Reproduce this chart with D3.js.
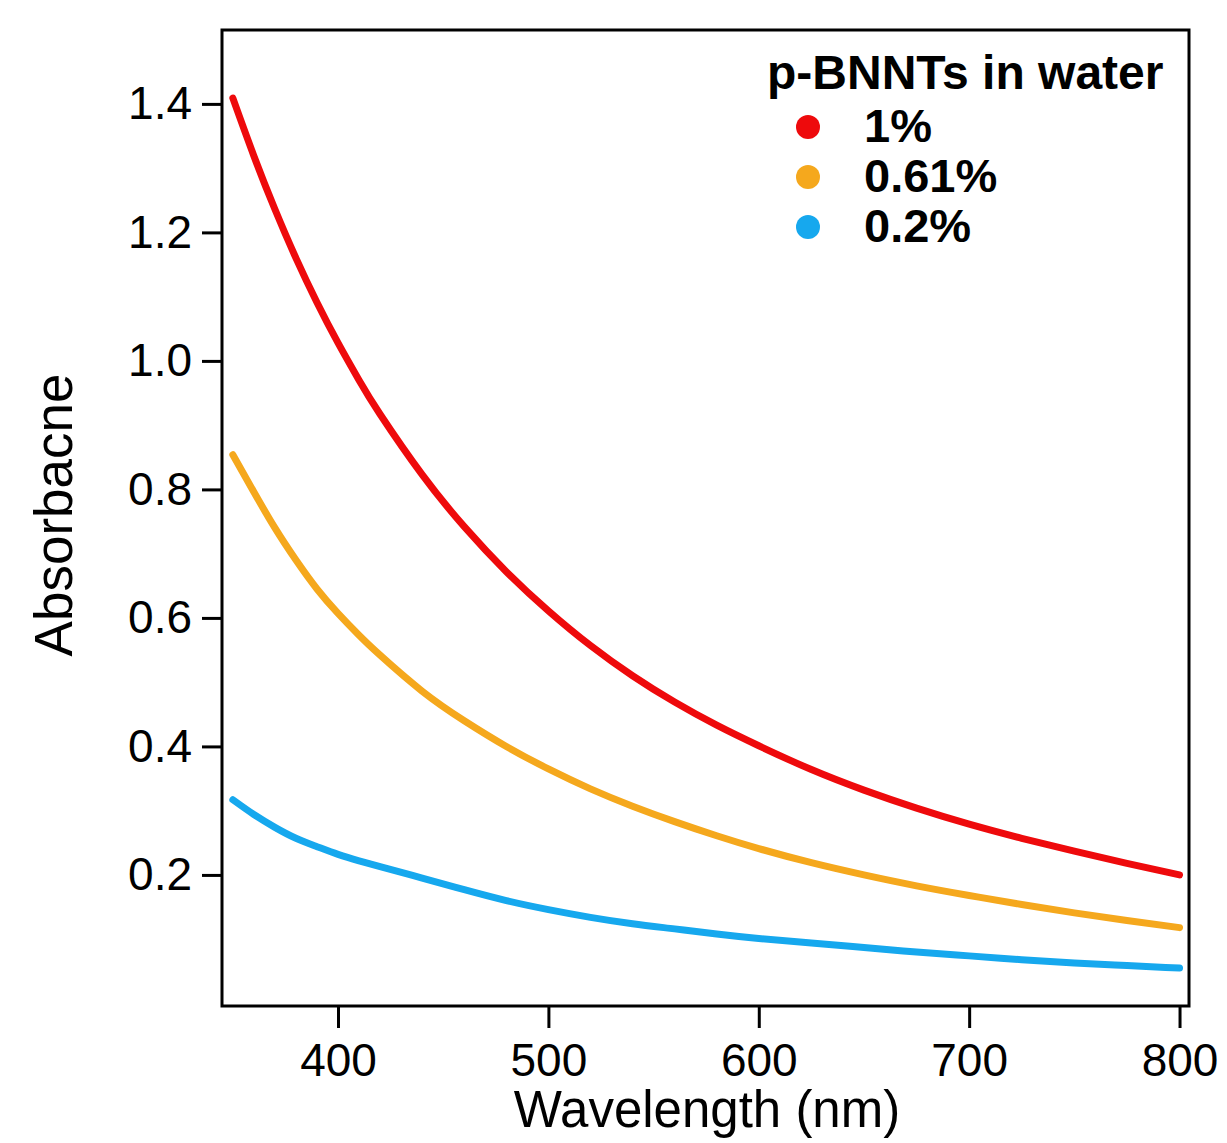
<!DOCTYPE html>
<html>
<head>
<meta charset="utf-8">
<script src="https://cdn.jsdelivr.net/npm/d3@7"></script>
<style>
  body { margin: 0; background: #fff; }
  svg { display: block; font-family: 'Liberation Sans', Helvetica, Arial, sans-serif; }
</style>
</head>
<body>
<div id="chart"></div>
<script>
// DATA ------------------------
const wavelengths = [350, 360, 370, 380, 390, 400, 410, 420, 440, 460, 480, 500, 520, 540, 560, 580, 600, 625, 650, 675, 700, 725, 750, 775, 800];
const abs1 = [1.409, 1.319, 1.236, 1.160, 1.091, 1.028, 0.970, 0.917, 0.823, 0.742, 0.672, 0.611, 0.557, 0.510, 0.469, 0.433, 0.401, 0.364, 0.332, 0.304, 0.279, 0.257, 0.237, 0.218, 0.200];
const abs061 = [0.854, 0.796, 0.740, 0.690, 0.645, 0.607, 0.573, 0.542, 0.486, 0.440, 0.400, 0.365, 0.334, 0.307, 0.283, 0.261, 0.241, 0.219, 0.200, 0.183, 0.168, 0.154, 0.141, 0.129, 0.118];
const abs02 = [0.317, 0.294, 0.274, 0.257, 0.244, 0.232, 0.222, 0.213, 0.195, 0.177, 0.160, 0.146, 0.134, 0.124, 0.116, 0.108, 0.101, 0.094, 0.087, 0.080, 0.074, 0.068, 0.063, 0.059, 0.055];
const seriesNames = ['1%', '0.61%', '0.2%'];
const seriesColors = ['#ee0a0c', '#f5a81d', '#16a8ee'];
const xTicks = [400, 500, 600, 700, 800];
const yTicks = [0.2, 0.4, 0.6, 0.8, 1.0, 1.2, 1.4];

const w = 1227;
const h = 1143;
const plot = { left: 222, right: 1189, top: 30, bottom: 1006 };

const svg = d3.select('#chart').append('svg').attr('width', w).attr('height', h);

// SCALES ----------------------
const xScale = d3.scaleLinear().domain([344.85, 804.5]).range([plot.left, plot.right]);
const yScale = d3.scaleLinear().domain([-0.004, 1.515]).range([plot.bottom, plot.top]);

// LINES -----------------------
const series = [abs1, abs061, abs02];
const line = d3
  .line()
  .x((d) => xScale(d[0]))
  .y((d) => yScale(d[1]))
  .curve(d3.curveNatural);

svg
  .append('g')
  .selectAll('path')
  .data(series)
  .enter()
  .append('path')
  .attr('d', (vals) => line(wavelengths.map((wl, i) => [wl, vals[i]])))
  .attr('fill', 'none')
  .attr('stroke', (d, i) => seriesColors[i])
  .attr('stroke-width', 7)
  .attr('stroke-linecap', 'round')
  .attr('stroke-linejoin', 'round');

// FRAME + AXES ----------------
svg
  .append('rect')
  .attr('x', plot.left)
  .attr('y', plot.top)
  .attr('width', plot.right - plot.left)
  .attr('height', plot.bottom - plot.top)
  .attr('fill', 'none')
  .attr('stroke', '#000')
  .attr('stroke-width', 3);

const gX = svg
  .append('g')
  .attr('transform', `translate(0, ${plot.bottom})`)
  .call(d3.axisBottom(xScale).tickValues(xTicks).tickSize(22).tickSizeOuter(0).tickPadding(15).tickFormat(d3.format('d')));

const gY = svg
  .append('g')
  .attr('transform', `translate(${plot.left}, 0)`)
  .call(d3.axisLeft(yScale).tickValues(yTicks).tickSize(20).tickSizeOuter(0).tickPadding(10).tickFormat(d3.format('.1f')));

[gX, gY].forEach((g) => {
  g.select('.domain').remove();
  g.selectAll('line').attr('stroke', '#000').attr('stroke-width', 3);
  g.selectAll('text').attr('fill', '#000').style('font-size', '46px').style('font-family', "'Liberation Sans', Helvetica, Arial, sans-serif");
});

// AXIS LABELS -----------------
svg
  .append('text')
  .attr('x', 707)
  .attr('y', 1127)
  .style('text-anchor', 'middle')
  .style('font-size', '51px')
  .text('Wavelength (nm)');

svg
  .append('text')
  .attr('transform', 'rotate(-90)')
  .attr('x', -515)
  .attr('y', 72)
  .style('text-anchor', 'middle')
  .style('font-size', '53px')
  .text('Absorbacne');

// LEGEND ----------------------
const legend = svg.append('g');
legend
  .append('text')
  .attr('x', 767)
  .attr('y', 89)
  .style('font-size', '48px')
  .style('font-weight', 'bold')
  .text('p-BNNTs in water');

const items = legend
  .selectAll('.item')
  .data(seriesNames)
  .enter()
  .append('g')
  .attr('class', 'item')
  .attr('transform', (d, i) => `translate(0, ${127 + i * 50})`);

items.append('circle').attr('cx', 808).attr('cy', 0).attr('r', 12).attr('fill', (d, i) => seriesColors[i]);
items
  .append('text')
  .attr('x', 864)
  .attr('y', 15)
  .style('font-size', '47px')
  .style('font-weight', 'bold')
  .text((d) => d);
</script>
</body>
</html>
